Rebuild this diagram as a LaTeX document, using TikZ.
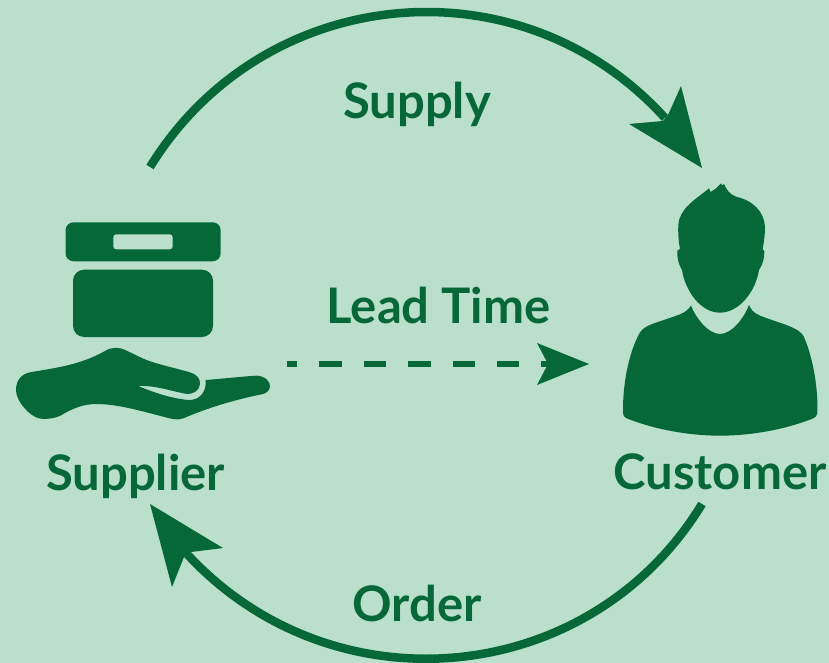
\documentclass[tikz,border=0pt]{standalone}
\usepackage{fontspec}
\setmainfont{Lato}
\definecolor{bg}{HTML}{BAE0CC}
\definecolor{dg}{HTML}{056836}
\tikzset{
  lbl/.style={text=dg,font=\bfseries\fontsize{49}{53}\selectfont,inner sep=0pt,anchor=base},
  arcline/.style={draw=dg,line width=8.5pt},
  dashline/.style={draw=dg,line width=6pt,dash pattern=on 22.4pt off 22pt,dash phase=12pt},
  head/.style={fill=dg,draw=none},
  icon/.style={fill=dg,draw=none}
}
\begin{document}
\begin{tikzpicture}[x=1pt,y=-1pt]
\useasboundingbox[fill=bg] (0,0) rectangle (829,663);
% labels
\node[lbl] (supply) at (417,119) {Supply};
\node[lbl] (lead) at (438.5,323.5) {Lead Time};
\node[lbl] (supplier) at (135.5,490) {Supplier};
\node[lbl] (customer) at (720,489.5) {Customer};
\node[lbl] (order) at (417,621.5) {Order};
% connectors
\coordinate (topstart) at (150,167);
\coordinate (topend) at (665,118);
\coordinate (botstart) at (702,504);
\coordinate (botend) at (187,554);
\coordinate (dashstart) at (287,363.7);
\coordinate (dashend) at (550,363.7);
\draw[arcline] (topstart) .. controls (263,-17) and (520,-42) .. (topend);
\fill[head] (702,168) -- (681,86) -- (668,115) -- (663,121) -- (629,124) -- cycle;
\draw[arcline] (botstart) .. controls (590,688) and (333,712) .. (botend);
\fill[head] (150,504) -- (223,548) -- (191,552) -- (184,557) -- (172,587) -- cycle;
\draw[dashline] (dashstart) -- (dashend);
\fill[head] (589,364) -- (537,343) -- (548,364) -- (537,385) -- cycle;
% box
\fill[icon,rounded corners=8pt] (65.5,222.3) rectangle (220.7,261.3);
\fill[bg,rounded corners=3pt] (113.3,234.3) rectangle (172.7,249.3);
\fill[icon,rounded corners=11pt] (73,269.7) rectangle (213,337);
% hand
\begin{scope}[shift={(0,200)},x=0.33333pt,y=-0.33333pt]
\fill[icon] (48,570) .. controls (48,540) and (65,522) .. (90,517)
  .. controls (170,503) and (240,495) .. (315,453)
  .. controls (335,441) and (355,440) .. (380,452)
  .. controls (410,466) and (430,478) .. (460,487)
  .. controls (500,499) and (535,507) .. (570,517)
  .. controls (590,523) and (601,535) .. (600,552)
  .. controls (598,572) and (580,585) .. (555,581)
  .. controls (510,572) and (465,556) .. (415,558)
  .. controls (455,575) and (510,595) .. (565,600)
  .. controls (600,601) and (620,575) .. (617,540)
  .. controls (670,536) and (720,530) .. (770,527)
  .. controls (795,528) and (812,545) .. (810,560)
  .. controls (808,572) and (800,580) .. (785,583)
  .. controls (700,600) and (620,625) .. (550,655)
  .. controls (530,663) and (510,655) .. (490,650)
  .. controls (420,632) and (350,612) .. (290,612)
  .. controls (250,612) and (220,625) .. (190,642)
  .. controls (170,655) and (145,658) .. (120,656)
  .. controls (90,650) and (48,605) .. (48,570) -- cycle;
\end{scope}
% person
\begin{scope}[shift={(610,170)},x=0.33333pt,y=-0.33333pt]
\fill[icon] (302,66) -- (318,55) -- (333,40) -- (336,46) -- (342,42)
  .. controls (350,60) and (358,72) .. (378,80)
  .. controls (430,92) and (462,125) .. (465,170)
  .. controls (465,195) and (462,215) .. (458,238)
  -- (463,243)
  .. controls (464,262) and (458,285) .. (447,300)
  .. controls (438,360) and (390,428) .. (330,428)
  .. controls (270,428) and (225,360) .. (216,300)
  .. controls (206,285) and (200,262) .. (202,241)
  -- (210,237)
  .. controls (205,210) and (204,190) .. (205,165)
  .. controls (208,115) and (255,90) .. (297,55)
  -- cycle;
\fill[icon] (243,407)
  .. controls (258,445) and (295,492) .. (330,492)
  .. controls (365,492) and (402,445) .. (417,405)
  .. controls (428,432) and (450,437) .. (480,448)
  .. controls (530,465) and (565,475) .. (580,497)
  .. controls (600,540) and (625,630) .. (622,728)
  .. controls (620,740) and (615,743) .. (605,747)
  .. controls (520,780) and (420,797) .. (330,797)
  .. controls (240,797) and (140,780) .. (55,747)
  .. controls (45,743) and (40,740) .. (39,728)
  .. controls (38,630) and (60,540) .. (90,487)
  .. controls (105,465) and (135,460) .. (170,447)
  .. controls (205,435) and (228,430) .. (243,407) -- cycle;
\end{scope}
\end{tikzpicture}
\end{document}
